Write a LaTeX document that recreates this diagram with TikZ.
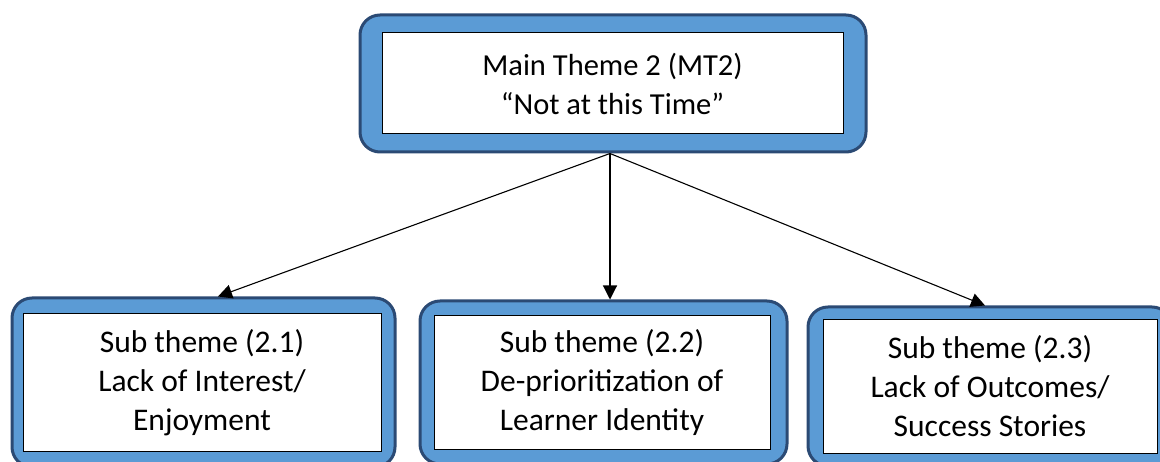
\documentclass[tikz,border=0pt]{standalone}
\usepackage{fontspec}
\setmainfont{Carlito}
\usetikzlibrary{arrows.meta,calc}

\definecolor{themeblue}{HTML}{5B9BD5}
\definecolor{themeedge}{HTML}{2B4A74}

\tikzset{
  frame/.style={draw=themeedge, line width=3pt, fill=themeblue,
    rounded corners=20pt, inner sep=0pt},
  inbox/.style={draw=black, line width=1pt, fill=white, inner sep=0pt,
    align=center, font=\fontsize{31.5}{39}\selectfont},
  link/.style={-{Triangle[length=14pt,width=14pt]}, line width=1.1pt}
}

\begin{document}
\begin{tikzpicture}[x=1pt,y=-1pt]
\useasboundingbox (0,0) rectangle (1160,462);
\clip (0,0) rectangle (1160,462);

%% main theme
\node[frame, minimum width=506pt, minimum height=137pt] (main) at (613,83.5) {};
\node[inbox, minimum width=461pt, minimum height=101pt,
  font=\fontsize{30.5}{39}\selectfont] (maintxt) at (612.5,83.5)
  {Main Theme 2 (MT2)\\``Not at this Time''};

%% sub themes
\node[frame, minimum width=383pt, minimum height=169pt] (sub1) at (203.5,382.5) {};
\node[inbox, minimum width=358pt, minimum height=137pt] (subtxt1) at (202,382.5)
  {Sub theme (2.1)\\Lack of Interest/\\Enjoyment};

\node[frame, minimum width=367pt, minimum height=163pt] (sub2) at (603.5,382.5) {};
\node[inbox, minimum width=336pt, minimum height=133pt] (subtxt2) at (602,382.5)
  {Sub theme (2.2)\\De-prioritization of\\Learner Identity};

\node[frame, minimum width=364pt, minimum height=159pt] (sub3) at (990,386.5) {};
\node[inbox, minimum width=334pt, minimum height=133pt] (subtxt3) at (990,386.5)
  {Sub theme (2.3)\\Lack of Outcomes/\\Success Stories};

%% links
\draw[link] ($(main.south)+(-3,0)$) -- ($(sub1.north)+(14.5,0)$);
\draw[link] ($(main.south)+(-3,0)$) -- ($(sub2.north)+(6.5,0)$);
\draw[link] ($(main.south)+(-3,0)$) -- ($(sub3.north)+(-5,0)$);

\end{tikzpicture}
\end{document}
